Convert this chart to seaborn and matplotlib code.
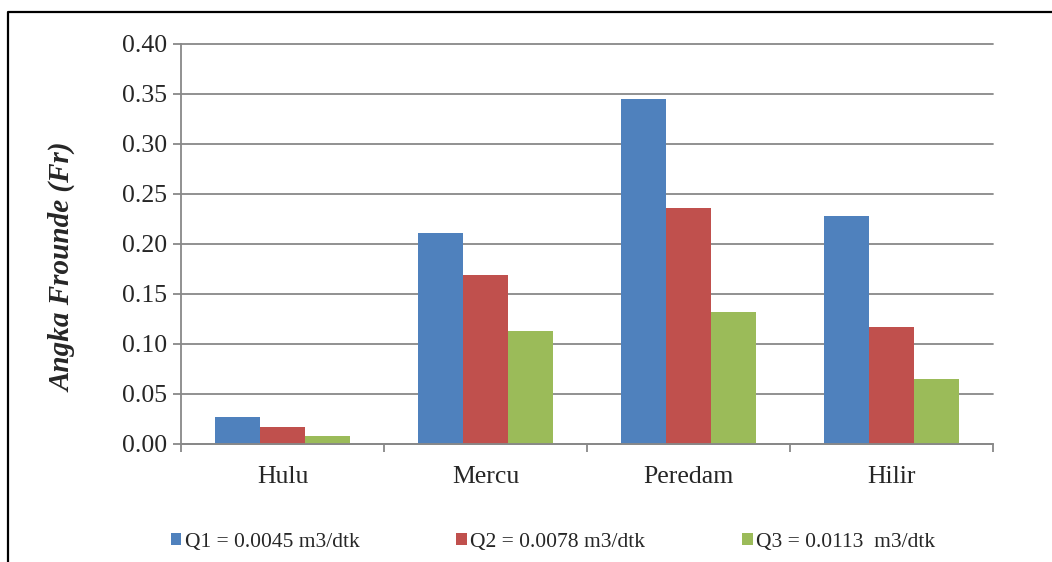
import matplotlib
matplotlib.use("Agg")
import matplotlib.pyplot as plt
from matplotlib.lines import Line2D
from matplotlib.patches import Patch
import numpy as np
import pandas as pd
import seaborn as sns

# Froude number per measurement location for three discharges
lokasi = ["Hulu", "Mercu", "Peredam", "Hilir"]
debit = ["Q1 = 0.0045 m3/dtk", "Q2 = 0.0078 m3/dtk", "Q3 = 0.0113  m3/dtk"]
fr_q1 = [0.027, 0.2115, 0.345, 0.228]
fr_q2 = [0.017, 0.169, 0.236, 0.117]
fr_q3 = [0.0085, 0.113, 0.1325, 0.065]
y_ticks = [0.00, 0.05, 0.10, 0.15, 0.20, 0.25, 0.30, 0.35, 0.40]

warna = ["#4F81BD", "#C0504D", "#9BBB59"]
grid_col = "#888888"

df = pd.DataFrame({
    "lokasi": lokasi * 3,
    "debit": [debit[0]] * 4 + [debit[1]] * 4 + [debit[2]] * 4,
    "fr": fr_q1 + fr_q2 + fr_q3,
})

sns.set_style("white")
plt.rcParams["font.family"] = ["Liberation Serif", "DejaVu Serif"]

fig = plt.figure(figsize=(10.52, 5.62), dpi=100)
ax = fig.add_axes([181 / 1052, 1 - 444 / 562, 812 / 1052, 400 / 562])

sns.barplot(data=df, x="lokasi", y="fr", hue="debit", hue_order=debit,
            palette=warna, width=0.665, gap=0, saturation=1,
            edgecolor="none", linewidth=0, ax=ax, legend=False)

ax.set_xlim(-0.5, 3.5)
ax.set_ylim(0, 0.4)
ax.set_yticks(y_ticks)
ax.set_yticklabels([f"{v:.2f}" for v in y_ticks])
ax.yaxis.grid(True, color=grid_col, linewidth=1.3)
ax.xaxis.grid(False)
ax.set_axisbelow(True)
for gl in ax.get_ygridlines():
    gl.set_clip_on(False)

for s in ["top", "right"]:
    ax.spines[s].set_visible(False)
for s in ["left", "bottom"]:
    ax.spines[s].set_color(grid_col)
    ax.spines[s].set_linewidth(1.3)

ax.tick_params(axis="y", which="major", direction="out", length=5.8,
               width=1.3, color=grid_col, labelsize=18.5, pad=4, left=True)
ax.set_xticks(np.arange(-0.5, 4.0, 1.0), minor=True)
ax.tick_params(axis="x", which="minor", direction="out", length=5.8,
               width=1.3, color=grid_col, bottom=True)
ax.tick_params(axis="x", which="major", length=0, labelsize=18.5, pad=16)

ax.set_xlabel("")
ax.set_ylabel("Angka Frounde (Fr)", fontsize=21, fontweight="bold",
              fontstyle="italic")
ax.yaxis.set_label_coords(-0.129, 0.441)

handles = [Patch(facecolor=c, edgecolor="none") for c in warna]
fig.legend(handles, debit, loc="center", ncol=3,
           bbox_to_anchor=(553 / 1052, 1 - 542 / 562), frameon=False,
           fontsize=15.5, handlelength=0.5, handleheight=0.5,
           handletextpad=0.15, columnspacing=4.5, borderpad=0,
           borderaxespad=0)

# outer chart frame (left and top edges)
fig.add_artist(Line2D([8 / 1052, 8 / 1052, 1.0], [0.0, 1 - 12 / 562, 1 - 12 / 562],
                      transform=fig.transFigure, color="black", linewidth=1.6))

fig.savefig("out.png", dpi=100)
